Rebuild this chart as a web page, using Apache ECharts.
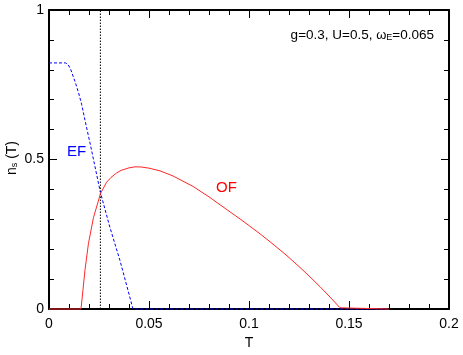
<!DOCTYPE html>
<html>
<head>
<meta charset="utf-8">
<script src="https://cdn.jsdelivr.net/npm/echarts@6/dist/echarts.min.js"></script>
<style>
html,body{margin:0;padding:0;background:#fff;}
#chart{width:463px;height:355px;}
</style>
</head>
<body>
<div id="chart"></div>
<script>
// ---- data ----
var efT = [0, 0.0083, 0.0095, 0.0108, 0.013, 0.0147, 0.0163, 0.0183, 0.0208, 0.0257, 0.0305, 0.0355, 0.042, 0.17];
var efN = [0.823, 0.823, 0.818, 0.802, 0.761, 0.725, 0.685, 0.622, 0.546, 0.39, 0.272, 0.162, 0, 0];

var ofT = [0, 0.016, 0.017, 0.018, 0.0197, 0.0222, 0.0258, 0.0288, 0.031, 0.0338, 0.036, 0.04, 0.043, 0.046, 0.05, 0.0555, 0.062, 0.072, 0.08, 0.089, 0.097, 0.105, 0.112, 0.119, 0.1255, 0.1305, 0.1355, 0.1405, 0.1455, 0.146, 0.17];
var ofN = [0, 0, 0.065, 0.131, 0.218, 0.305, 0.387, 0.424, 0.440, 0.455, 0.4635, 0.472, 0.4755, 0.475, 0.471, 0.462, 0.445, 0.410, 0.375, 0.332, 0.294, 0.254, 0.217, 0.178, 0.139, 0.1075, 0.0745, 0.040, 0.004, 0, 0];

var markerT = [0.0257, 0.0257];
var markerN = [0, 1];

var xTicks = ['0', '0.05', '0.1', '0.15', '0.2'];
var yTicks = ['0', '0.5', '1'];

function pairs(a, b) { return a.map(function (v, i) { return [v, b[i]]; }); }

var chart = echarts.init(document.getElementById('chart'), null, {renderer: 'canvas'});
var FONT = 'Liberation Sans, Arial, Helvetica, sans-serif';
var axisLine = {show: true, onZero: false, lineStyle: {color: '#000', width: 2}};
var tick = {show: true, inside: true, length: 8, lineStyle: {color: '#000', width: 1}};
var minor = {show: true, splitNumber: 5, length: 5, lineStyle: {color: '#000', width: 1}};

chart.setOption({
  animation: false,
  backgroundColor: '#fff',
  textStyle: {fontFamily: FONT},
  grid: {left: 49, right: 14, top: 10, bottom: 38, containLabel: false},
  xAxis: [{
    type: 'value', min: 0, max: 0.2, interval: 0.05,
    axisLine: axisLine, axisTick: tick, minorTick: minor,
    splitLine: {show: false},
    axisLabel: {color: '#000', fontSize: 14, margin: 8, fontFamily: FONT,
      formatter: function (v) { return xTicks[Math.round(v / 0.05)]; }},
    name: 'T', nameLocation: 'middle', nameGap: 27,
    nameTextStyle: {color: '#000', fontSize: 14, fontFamily: FONT}
  }, {
    type: 'value', position: 'top', min: 0, max: 0.2, interval: 0.05,
    axisLine: axisLine, axisTick: tick, minorTick: minor,
    splitLine: {show: false}, axisLabel: {show: false}
  }],
  yAxis: [{
    type: 'value', min: 0, max: 1, interval: 0.5,
    axisLine: axisLine, axisTick: tick, minorTick: minor,
    splitLine: {show: false},
    axisLabel: {color: '#000', fontSize: 14, margin: 5, fontFamily: FONT,
      formatter: function (v) { return yTicks[Math.round(v / 0.5)]; }}
  }, {
    type: 'value', position: 'right', min: 0, max: 1, interval: 0.5,
    axisLine: axisLine, axisTick: tick, minorTick: minor,
    splitLine: {show: false}, axisLabel: {show: false}
  }],
  series: [{
    name: 'marker', type: 'line', data: pairs(markerT, markerN), showSymbol: false,
    symbol: 'none', clip: false,
    lineStyle: {color: '#000', width: 1, type: [1.5, 1.5]}, z: 3
  }, {
    name: 'EF', type: 'line', data: pairs(efT, efN), symbol: 'none', clip: false,
    lineStyle: {color: '#0000ff', width: 1, type: [3, 2]}, z: 4
  }, {
    name: 'OF', type: 'line', data: pairs(ofT, ofN), symbol: 'none', clip: false,
    lineStyle: {color: '#ff2828', width: 1}, z: 5
  }],
  graphic: [{
    type: 'text', left: 67, top: 144,
    style: {text: 'EF', fill: '#0000ff', font: '15px ' + FONT}
  }, {
    type: 'text', left: 216, top: 180,
    style: {text: 'OF', fill: '#ff0000', font: '15px ' + FONT}
  }, {
    type: 'text', right: 29, top: 27,
    style: {
      text: '{a|g=0.3, U=0.5, }{w|ω}{s|E}{a|=0.065}',
      rich: {
        a: {fontSize: 13.5, fontFamily: FONT, fill: '#000', verticalAlign: 'bottom', lineHeight: 17},
        w: {fontSize: 13, fontFamily: FONT, fill: '#000', verticalAlign: 'bottom', lineHeight: 17},
        s: {fontSize: 9, fontFamily: FONT, fill: '#000', verticalAlign: 'bottom', lineHeight: 13, padding: [6, 0, 0, 0]}
      }
    }
  }, {
    type: 'text', x: 10, y: 158, rotation: Math.PI / 2,
    style: {
      text: '{n|n}{s|s}{n| (T)}', align: 'center', verticalAlign: 'middle',
      rich: {
        n: {fontSize: 14, fontFamily: FONT, fill: '#000', verticalAlign: 'bottom', lineHeight: 18},
        s: {fontSize: 9, fontFamily: FONT, fill: '#000', verticalAlign: 'bottom', lineHeight: 14, padding: [6, 0, 0, 0]}
      }
    }
  }]
});
</script>
</body>
</html>
